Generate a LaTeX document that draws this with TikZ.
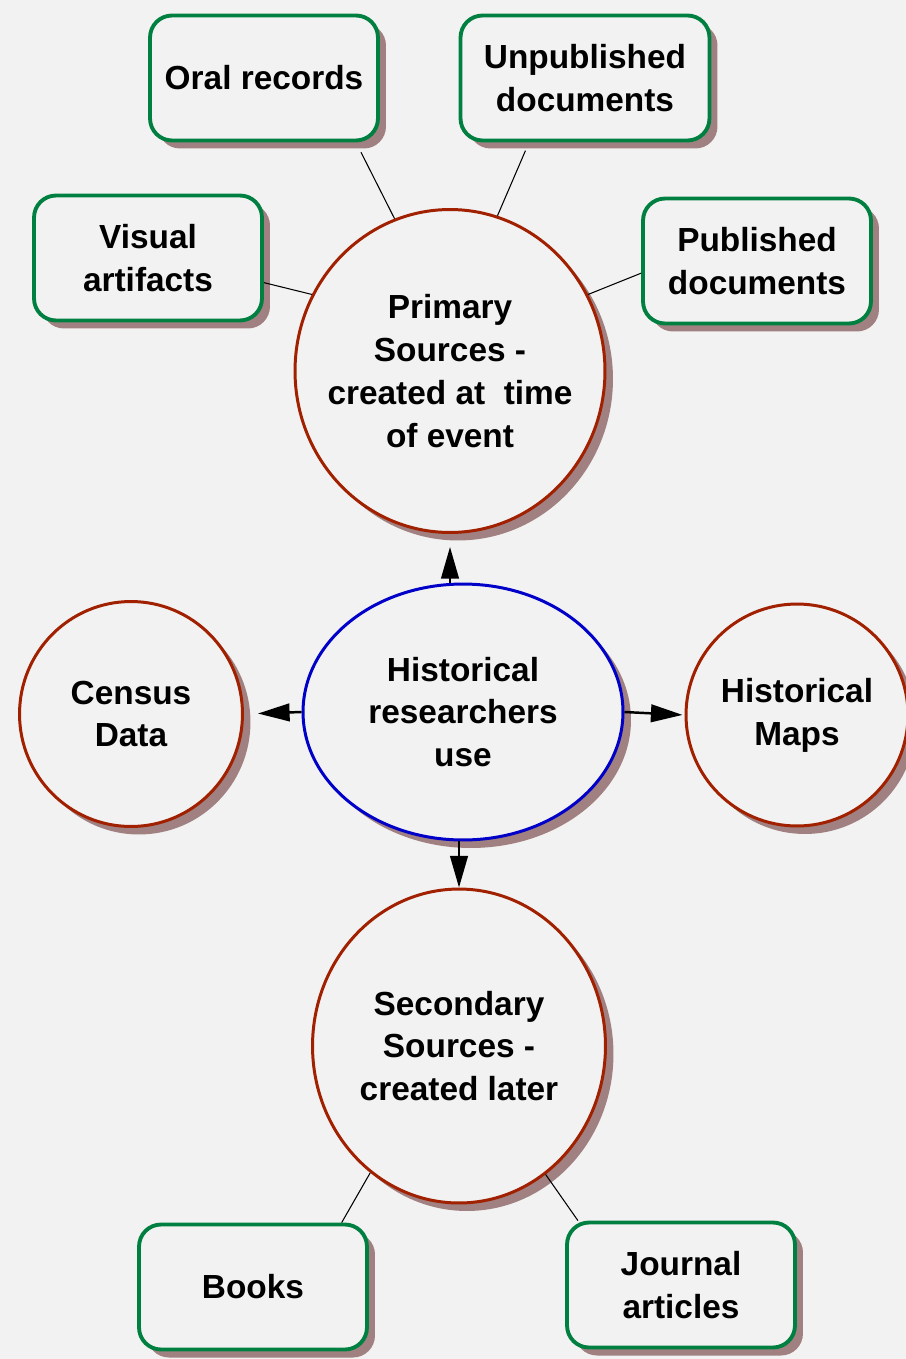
\documentclass[tikz,border=0pt]{standalone}
\usepackage{fontspec}
\setmainfont{Liberation Sans}
\usetikzlibrary{shapes.geometric,shadows,arrows.meta}

\definecolor{bggray}{RGB}{242,242,242}
\definecolor{boxgreen}{RGB}{0,128,64}
\definecolor{ringred}{RGB}{160,32,0}
\definecolor{ringblue}{RGB}{0,0,200}
\definecolor{shadowgray}{RGB}{160,128,128}

\begin{document}
\begin{tikzpicture}[
x=0.02cm, y=-0.02cm,
font=\fontsize{19}{24.4}\selectfont\bfseries,
shade/.style={drop shadow={shadow xshift=0.16cm, shadow yshift=-0.16cm, fill=shadowgray, opacity=1}},
sourcebox/.style={rectangle, rounded corners=0.44cm, draw=boxgreen, line width=2.2pt, fill=bggray, shade, minimum width=4.56cm, minimum height=2.5cm, align=center, inner sep=0pt},
ring/.style={ellipse, draw=ringred, line width=1.7pt, fill=bggray, shade, align=center, inner sep=-0.3cm},
link/.style={black, line width=0.6pt},
arr/.style={black, line width=1.4pt, -{Triangle[length=18pt, width=10pt]}},
]
\useasboundingbox[fill=bggray] (0,0) rectangle (906,1359);

%Circles
\node[ring, minimum width=6.2cm, minimum height=6.46cm]   (primary)   at (450,371)  {Primary\\Sources -\\created at \ time\\of event};
\node[ring, draw=ringblue, minimum width=6.4cm, minimum height=5.12cm] (hist) at (463,712) {Historical\\researchers\\use};
\node[ring, minimum width=4.46cm, minimum height=4.5cm]   (census)    at (131,714)  {Census\\Data};
\node[ring, minimum width=4.44cm, minimum height=4.44cm]  (maps)      at (797,715)  {Historical\\Maps};
\node[ring, minimum width=5.86cm, minimum height=6.28cm]  (secondary) at (459,1046) {Secondary\\Sources -\\created later};

%Boxes
\node[sourcebox] (oral)    at (264,78)   {Oral records};
\node[sourcebox, minimum width=4.98cm] (unpub) at (585,78) {Unpublished\\documents};
\node[sourcebox] (visual)  at (148,258)  {Visual\\artifacts};
\node[sourcebox] (pub)     at (757,261)  {Published\\documents};
\node[sourcebox] (books)   at (253,1287) {Books};
\node[sourcebox] (journal) at (681,1285) {Journal\\articles};

%Lines
\draw[link, shorten <=0.22cm] (oral.-35) -- (primary.110);
\draw[link, shorten <=0.18cm] (unpub.-131) -- (primary.73);
\draw[link] (visual.-12) -- (primary.151);
\draw[link] (pub.186) -- (primary.29);
\draw[link] (books.36) -- (secondary.235);
\draw[link] (journal.148) -- (secondary.-56);

%Arrows
\draw[arr, shorten >=0.26cm] (primary.south |- hist.north) -- (primary.south);
\draw[arr, shorten >=0.28cm] (hist.west) -- (census.east);
\draw[arr, shorten >=0.04cm] (hist.east) -- (maps.west);
\draw[arr] (secondary.north |- hist.south) -- (secondary.north);
\end{tikzpicture}
\end{document}
